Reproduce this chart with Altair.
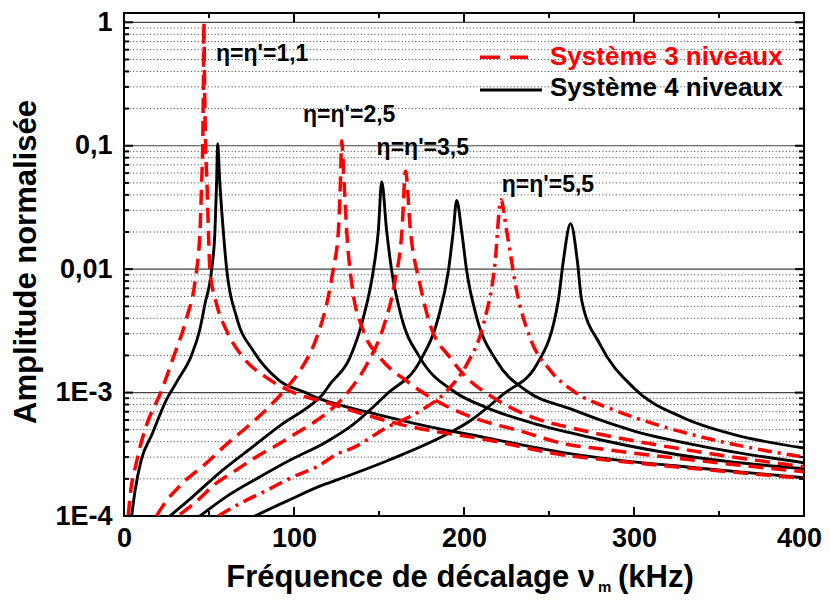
import altair as alt
import pandas as pd

# ---------------- data ----------------
# Système 4 niveaux (black, solid)
B1_x = [4.5, 6.5, 10.0, 16.5, 24.5, 31.9, 39.8, 44.5, 47.6, 51.6, 53.5, 54.5, 55.1, 56.3, 58.4, 60.4, 66.3, 76.1, 91.8, 107.5, 113.3, 126.0, 150.0, 174.0, 213.3, 262.4, 280.0, 338.8, 400.0]
B1_y = [1.0e-4, 1.6e-4, 2.8e-4, 4.6e-4, 8.5e-4, 1.28e-3, 2.02e-3, 3.2e-3, 5.2e-3, 1.0e-2, 2.04e-2, 5.2e-2, 0.104, 5.2e-2, 2.04e-2, 1.0e-2, 4.05e-3, 2.17e-3, 1.24e-3, 9.9e-4, 9.1e-4, 8.0e-4, 6.6e-4, 5.5e-4, 4.3e-4, 3.2e-4, 2.96e-4, 2.44e-4, 2.04e-4]

B2_x = [27.0, 39.8, 57.5, 75.1, 92.8, 110.4, 116.3, 121.2, 132.9, 140.8, 146.6, 149.6, 151.6, 154.5, 157.5, 163.3, 174.1, 193.7, 213.3, 242.8, 262.4, 280.0, 338.8, 400.0]
B2_y = [1.0e-4, 1.41e-4, 2.32e-4, 3.58e-4, 5.53e-4, 8.03e-4, 9.46e-4, 1.17e-3, 1.92e-3, 4.05e-3, 9.66e-3, 2.04e-2, 5.12e-2, 2.04e-2, 9.66e-3, 4.05e-3, 1.92e-3, 1.03e-3, 7.55e-4, 5.53e-4, 4.73e-4, 4.15e-4, 2.95e-4, 2.42e-4]

B3_x = [44.7, 59.4, 79.0, 98.6, 118.2, 134.9, 154.5, 174.1, 184.9, 190.8, 193.7, 195.7, 198.6, 201.6, 207.5, 219.2, 236.9, 262.4, 280.0, 299.6, 338.8, 400.0]
B3_y = [1.0e-4, 1.41e-4, 2.04e-4, 2.88e-4, 3.93e-4, 5.53e-4, 9.7e-4, 1.8e-3, 4.05e-3, 9.66e-3, 2.04e-2, 3.61e-2, 2.04e-2, 9.66e-3, 4.05e-3, 1.8e-3, 1.03e-3, 7.4e-4, 6.0e-4, 4.9e-4, 3.7e-4, 2.7e-4]

B4_x = [77.0, 95.7, 118.2, 126.1, 154.5, 189.8, 203.5, 223.1, 242.8, 255.5, 258.4, 262.7, 266.7, 269.2, 280.0, 299.6, 329.0, 358.4, 400.0]
B4_y = [1.0e-4, 1.32e-4, 1.81e-4, 1.98e-4, 2.79e-4, 4.59e-4, 5.89e-4, 9.7e-4, 1.69e-3, 5.6e-3, 1.16e-2, 2.34e-2, 1.16e-2, 5.6e-3, 2.46e-3, 1.1e-3, 6.26e-4, 4.59e-4, 3.55e-4]

# Système 3 niveaux (red, dashed; the last one dash-dot)
R1_x = [2.5, 3.5, 7.5, 13.4, 21.2, 29.0, 36.9, 41.8, 44.7, 45.7, 46.3, 46.7, 47.0, 47.4, 48.0, 48.8, 50.6, 54.5, 60.4, 70.2, 83.9, 95.7, 123.0, 162.4, 213.3, 262.4, 280.0, 338.8, 400.0]
R1_y = [1.0e-4, 1.41e-4, 2.79e-4, 5.53e-4, 9.7e-4, 1.92e-3, 4.05e-3, 8.0e-3, 2.04e-2, 5.2e-2, 0.1, 0.3, 1.0, 0.3, 0.1, 5.0e-2, 9.7e-3, 5.2e-3, 3.16e-3, 1.92e-3, 1.32e-3, 1.06e-3, 8.0e-4, 5.53e-4, 4.15e-4, 3.07e-4, 2.88e-4, 2.4e-4, 2.02e-4]

R2_x = [19.2, 22.2, 33.9, 47.6, 61.4, 73.1, 84.9, 96.6, 103.5, 113.3, 119.2, 123.1, 126.1, 127.3, 128.0, 129.5, 131.0, 134.0, 140.8, 150.6, 166.3, 184.0, 205.5, 232.9, 260.4, 280.0, 338.8, 400.0]
R2_y = [1.0e-4, 1.17e-4, 1.81e-4, 2.62e-4, 3.93e-4, 5.36e-4, 7.55e-4, 1.13e-3, 1.5e-3, 2.79e-3, 5.2e-3, 1.0e-2, 2.04e-2, 5.0e-2, 0.11, 5.0e-2, 2.04e-2, 7.55e-3, 3.16e-3, 1.92e-3, 1.24e-3, 8.55e-4, 6.26e-4, 4.89e-4, 3.81e-4, 3.5e-4, 2.8e-4, 2.28e-4]

R3_x = [32.9, 41.8, 53.5, 65.3, 77.1, 90.8, 103.5, 115.3, 129.0, 142.8, 152.5, 159.4, 163.5, 165.6, 168.5, 174.1, 180.0, 191.8, 201.6, 217.3, 240.8, 262.4, 280.0, 338.8, 400.0]
R3_y = [1.03e-4, 1.28e-4, 1.81e-4, 2.32e-4, 2.97e-4, 3.81e-4, 4.89e-4, 6.2e-4, 9.1e-4, 1.69e-3, 3.36e-3, 8.0e-3, 2.04e-2, 6.2e-2, 2.04e-2, 7.55e-3, 3.57e-3, 1.92e-3, 1.32e-3, 9.1e-4, 6.26e-4, 5.2e-4, 4.6e-4, 3.3e-4, 2.51e-4]

R4_x = [55.5, 67.2, 84.9, 100.6, 114.3, 125.1, 134.9, 154.5, 174.1, 189.8, 201.6, 211.4, 218.2, 221.7, 225.1, 231.0, 238.8, 250.6, 264.3, 289.8, 319.2, 358.4, 400.0]
R4_y = [1.0e-4, 1.24e-4, 1.64e-4, 2.11e-4, 2.54e-4, 3.16e-4, 3.58e-4, 5.2e-4, 7.1e-4, 1.03e-3, 1.69e-3, 3.57e-3, 1.1e-2, 3.65e-2, 2.04e-2, 6.65e-3, 2.79e-3, 1.52e-3, 1.03e-3, 7.1e-4, 5.2e-4, 3.81e-4, 3.0e-4]

# annotations
ann_text = ["η=η'=1,1", "η=η'=2,5", "η=η'=3,5", "η=η'=5,5"]
ann_x = [54.1, 105.3, 148.6, 222.2]
ann_y = [0.486, 0.156, 0.0843, 0.0424]

# axes
x_major = [0, 100, 200, 300, 400]
x_minor = [50, 150, 250, 350]
y_major = [1e-4, 1e-3, 1e-2, 1e-1, 1.0]
y_minor = [k * 10.0 ** d for d in (-4, -3, -2, -1) for k in range(2, 10)]
legend_labels = ["Système 3 niveaux", "Système 4 niveaux"]

# ---------------- build tables ----------------
def table(curves):
    rows = []
    for name, xs_, ys_ in curves:
        for i, (x, y) in enumerate(zip(xs_, ys_)):
            rows.append({"curve": name, "i": i, "x": x, "y": y})
    return pd.DataFrame(rows)

df_black = table([("B1", B1_x, B1_y), ("B2", B2_x, B2_y), ("B3", B3_x, B3_y), ("B4", B4_x, B4_y)])
df_dash = table([("R1", R1_x, R1_y), ("R2", R2_x, R2_y), ("R3", R3_x, R3_y)])
df_dashdot = table([("R4", R4_x, R4_y)])
df_ann = pd.DataFrame({"t": ann_text, "x": ann_x, "y": ann_y})

FONT = "Liberation Sans"
W, H = 680, 503
xs = alt.Scale(domain=[0, 400], nice=False, zero=False)
ys = alt.Scale(type="log", domain=[1e-4, 1.19], nice=False)

def X(**kw):
    return alt.X("x:Q", scale=xs, **kw)

def Y(**kw):
    return alt.Y("y:Q", scale=ys, **kw)

# grid
grid_minor = alt.Chart(pd.DataFrame({"y": y_minor})).mark_rule(
    color="#555", strokeWidth=1, strokeDash=[1.2, 2.2]
).encode(y=Y(axis=None))
grid_major = alt.Chart(pd.DataFrame({"y": y_major[1:]})).mark_rule(
    color="#444", strokeWidth=1.2
).encode(y=Y(axis=None))

# curves
black = alt.Chart(df_black).mark_line(
    color="black", strokeWidth=2.9, interpolate="monotone", clip=True
).encode(x=X(axis=None), y=Y(axis=None), detail="curve:N", order="i:Q")
red_dash = alt.Chart(df_dash).mark_line(
    color="#ff0000", strokeWidth=3.5, strokeDash=[15, 8], interpolate="monotone", clip=True
).encode(x=X(axis=None), y=Y(axis=None), detail="curve:N", order="i:Q")
red_dashdot = alt.Chart(df_dashdot).mark_line(
    color="#ff0000", strokeWidth=3.5, strokeDash=[14, 6, 3, 6], interpolate="monotone", clip=True
).encode(x=X(axis=None), y=Y(axis=None), detail="curve:N", order="i:Q")

# annotations
ann = alt.Chart(df_ann).mark_text(
    align="left", baseline="alphabetic", font=FONT, fontSize=23, fontWeight="bold", color="black"
).encode(x=X(axis=None), y=Y(axis=None), text="t:N")

# axis labels (invisible point carries the axes)
dummy = pd.DataFrame({"x": [0.0], "y": [1e-3]})
lab_font = dict(labelFont=FONT, labelFontSize=27, labelFontWeight="bold", labelColor="black")
axis_labels = alt.Chart(dummy).mark_point(opacity=0).encode(
    x=X(axis=alt.Axis(orient="bottom", values=x_major, ticks=False, domain=False, grid=False,
                      title=None, labelPadding=9, labelFlush=False,
                      labelOffset={"condition": {"test": "datum.value >= 400", "value": -5}, "value": 0},
                      **lab_font)),
    y=Y(axis=alt.Axis(orient="left", values=y_major, ticks=False, domain=False, grid=False,
                      title=None, labelPadding=12,
                      labelExpr="datum.value > 0.5 ? '1' : datum.value > 0.05 ? '0,1' : datum.value > 0.005 ? '0,01' : datum.value > 0.0005 ? '1E-3' : '1E-4'",
                      **lab_font)),
)

# inward ticks on all four sides
def yticks(values, x0, x1):
    return alt.Chart(pd.DataFrame({"y": values})).mark_rule(color="black", strokeWidth=2).encode(
        y=Y(axis=None), x=alt.value(x0), x2=alt.value(x1))

def xticks(values, y0, y1):
    return alt.Chart(pd.DataFrame({"x": values})).mark_rule(color="black", strokeWidth=2).encode(
        x=X(axis=None), y=alt.value(y0), y2=alt.value(y1))

tick_layers = [
    yticks(y_major, 0, 9), yticks(y_minor, 0, 5),
    yticks(y_major, W - 9, W), yticks(y_minor, W - 5, W),
    xticks(x_major, H, H - 9), xticks(x_minor, H, H - 5),
    xticks(x_major, 0, 9), xticks(x_minor, 0, 5),
]

# titles (pixel positions relative to plot area)
one = pd.DataFrame({"a": [0]})
def label(text, x, y, size, align="left", baseline="alphabetic", color="black", angle=0):
    kw = dict(align=align, baseline=baseline, font=FONT, fontSize=size, fontWeight="bold",
              color=color, text=text)
    if angle:
        kw["angle"] = angle
    return alt.Chart(one).mark_text(**kw).encode(x=alt.value(x), y=alt.value(y))

xtitle1 = label("Fréquence de décalage ν", 471, 574, 31, align="right")
xtitle2 = label("m", 474, 579, 15)
xtitle3 = label("(kHz)", 494, 574, 31)
ytitle = label("Amplitude normalisée", -88, 249, 31, align="center", angle=270)

# legend
leg_red = alt.Chart(one).mark_rule(color="#ff0000", strokeWidth=3.5, strokeDash=[20, 10]).encode(
    x=alt.value(356), x2=alt.value(404), y=alt.value(44.3))
leg_blk = alt.Chart(one).mark_rule(color="black", strokeWidth=3).encode(
    x=alt.value(356), x2=alt.value(418), y=alt.value(77))
leg_t1 = label(legend_labels[0], 426, 44, 26, baseline="middle", color="#ff0000")
leg_t2 = label(legend_labels[1], 426, 75, 26, baseline="middle")

chart = alt.layer(
    grid_minor, grid_major, black, red_dash, red_dashdot, ann,
    axis_labels, *tick_layers,
    xtitle1, xtitle2, xtitle3, ytitle,
    leg_red, leg_blk, leg_t1, leg_t2,
).resolve_axis(x="independent", y="independent").properties(
    width=W, height=H,
    autosize=alt.AutoSizeParams(type="none"),
    padding={"left": 116, "top": 5, "right": 18, "bottom": 79},
    background="white",
).configure_view(stroke="black", strokeWidth=2)

chart.save("out.html", embed_options={"renderer": "svg", "actions": False})
